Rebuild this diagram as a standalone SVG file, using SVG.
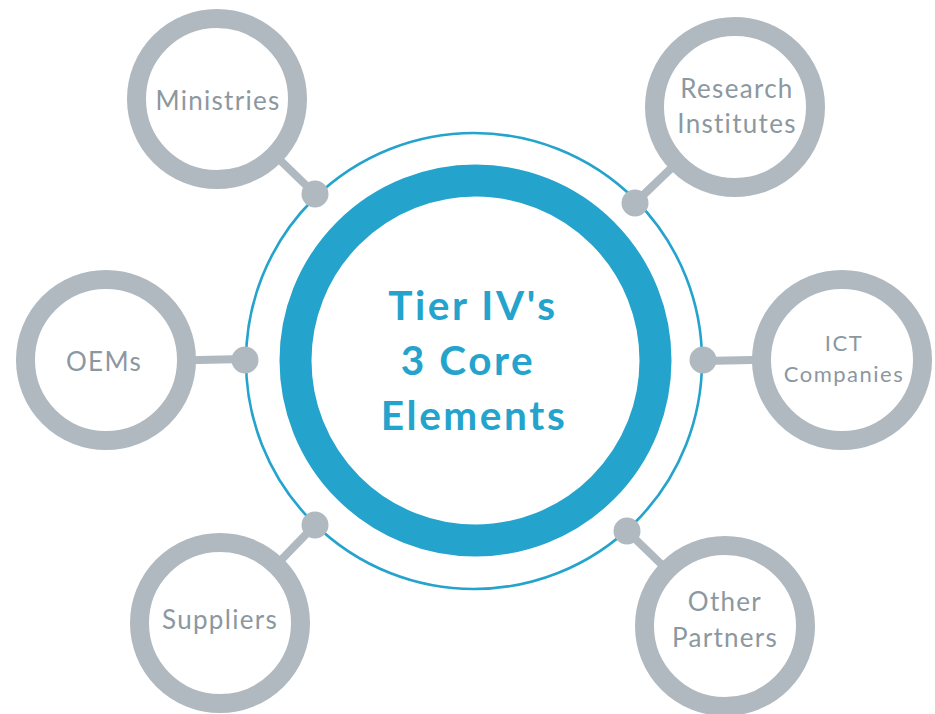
<svg xmlns="http://www.w3.org/2000/svg" width="935" height="714" viewBox="0 0 935 714">
  <style>
    .sat { fill: #ffffff; stroke: #b0b9bf; stroke-width: 19; }
    .link { stroke: #b0b9bf; stroke-width: 8; stroke-linecap: round; }
    .dot { fill: #b0b9bf; }
    .lbl { font-family: Lato, "Noto Sans", "Liberation Sans", sans-serif; font-size: 26px; fill: #8c989f; letter-spacing: 1.3px; text-anchor: middle; }
    .lbl-sm { font-size: 22px; letter-spacing: 1.5px; }
    .core { font-family: Lato, "Noto Sans", "Liberation Sans", sans-serif; font-weight: bold; font-size: 40.5px; fill: #24a3cc; letter-spacing: 2.6px; text-anchor: middle; }
  </style>
  <rect width="935" height="714" fill="#ffffff"/>

  <!-- spokes from the hub ring to each partner circle -->
  <g id="connectors">
    <line class="link" x1="217" y1="99" x2="315" y2="194"/>
    <line class="link" x1="735" y1="107" x2="635" y2="203"/>
    <line class="link" x1="106" y1="362" x2="245" y2="359"/>
    <line class="link" x1="842" y1="358" x2="703" y2="361"/>
    <line class="link" x1="220" y1="623" x2="315" y2="525"/>
    <line class="link" x1="725" y1="626" x2="627" y2="531"/>
  </g>

  <!-- hub -->
  <g id="core">
    <circle cx="474" cy="361" r="228" fill="none" stroke="#24a3cc" stroke-width="2.6"/>
    <circle cx="475.5" cy="360.5" r="180" fill="#ffffff" stroke="#24a3cc" stroke-width="32"/>
    <text class="core" x="473" y="320">Tier IV's</text>
    <text class="core" x="468" y="375">3 Core</text>
    <text class="core" x="474" y="430">Elements</text>
  </g>

  <!-- junction dots on the hub ring -->
  <g id="junctions">
    <circle class="dot" cx="315" cy="194" r="13.5"/>
    <circle class="dot" cx="635" cy="203" r="13.5"/>
    <circle class="dot" cx="245" cy="360" r="13.5"/>
    <circle class="dot" cx="703" cy="360" r="13.5"/>
    <circle class="dot" cx="315" cy="525" r="13.5"/>
    <circle class="dot" cx="627" cy="531" r="13.5"/>
  </g>

  <g id="ministries">
    <circle class="sat" cx="217" cy="99" r="80.5"/>
    <text class="lbl" x="218" y="110">Ministries</text>
  </g>

  <g id="research-institutes">
    <circle class="sat" cx="735" cy="107" r="80.5"/>
    <text class="lbl" x="737" y="98">Research</text>
    <text class="lbl" x="737" y="133">Institutes</text>
  </g>

  <g id="oems">
    <circle class="sat" cx="106" cy="360" r="80.5"/>
    <text class="lbl" x="104" y="371">OEMs</text>
  </g>

  <g id="ict-companies">
    <circle class="sat" cx="842" cy="360" r="80.5"/>
    <text class="lbl lbl-sm" x="844" y="351">ICT</text>
    <text class="lbl lbl-sm" x="844" y="382">Companies</text>
  </g>

  <g id="suppliers">
    <circle class="sat" cx="220" cy="623" r="80.5"/>
    <text class="lbl" x="220" y="629">Suppliers</text>
  </g>

  <g id="other-partners">
    <circle class="sat" cx="725" cy="626" r="80.5"/>
    <text class="lbl" x="725" y="611">Other</text>
    <text class="lbl" x="725" y="647">Partners</text>
  </g>
</svg>
